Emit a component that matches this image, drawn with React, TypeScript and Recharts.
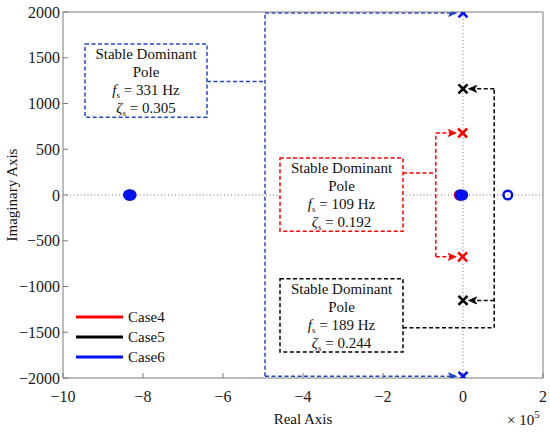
import {
  ScatterChart,
  Scatter,
  XAxis,
  YAxis,
  CartesianGrid,
  ReferenceArea,
  ReferenceLine,
  Legend,
} from 'recharts'

// real axis values are in units of 1e5
const xTicks = [-10, -8, -6, -4, -2, 0, 2]
const yTicks = [-2000, -1500, -1000, -500, 0, 500, 1000, 1500, 2000]

const cases = ['Case4', 'Case5', 'Case6']

// poles (x markers)
const case4Poles = [{ x: -0.01, y: 678 }, { x: -0.01, y: -676 }]
const case5Poles = [{ x: 0, y: 1160 }, { x: 0, y: -1152 }]
const case6Poles = [{ x: 0, y: 1990 }, { x: 0, y: -1982 }]

// zeros (filled circles)
const case4Zeros = [{ x: -8.34, y: 0 }, { x: -0.09, y: 0 }]
const case5Zeros = [{ x: -8.33, y: 0 }, { x: -0.06, y: 0 }]
const case6Zeros = [{ x: -8.36, y: 0 }, { x: -8.3, y: 0 }, { x: -0.07, y: 0 }, { x: -0.01, y: 0 }]
// open zero
const case6OpenZeros = [{ x: 1.12, y: 0 }]

// annotation boxes (data units)
const annBoxes = [
  { key: 'c6', x1: -9.45, x2: -6.4, y1: 850, y2: 1650, fs: '331', zeta: '0.305' },
  { key: 'c4', x1: -4.575, x2: -1.5, y1: -395, y2: 405, fs: '109', zeta: '0.192' },
  { key: 'c5', x1: -4.575, x2: -1.5, y1: -1716, y2: -915, fs: '189', zeta: '0.244' },
]

// dashed leader lines: [x1, y1, x2, y2]
const case6Leaders = [
  [-6.4, 1240, -4.95, 1240],
  [-4.95, -1982, -4.95, 1990],
  [-4.95, 1990, -0.2, 1990],
  [-4.95, -1982, -0.2, -1982],
]
const case4Leaders = [
  [-1.5, 240, -0.68, 240],
  [-0.68, -676, -0.68, 678],
  [-0.68, 678, -0.2, 678],
  [-0.68, -676, -0.2, -676],
]
const case5Leaders = [
  [-1.5, -1450, 0.78, -1450],
  [0.78, -1450, 0.78, 1160],
  [0.78, 1160, 0.18, 1160],
  [0.78, -1152, 0.18, -1152],
]

// arrow tips
const case6Tips = [{ x: -0.16, y: 1990, dir: 1 }, { x: -0.16, y: -1982, dir: 1 }]
const case4Tips = [{ x: -0.17, y: 678, dir: 1 }, { x: -0.17, y: -676, dir: 1 }]
const case5Tips = [{ x: 0.14, y: 1160, dir: -1 }, { x: 0.14, y: -1152, dir: -1 }]

const FONT = "'Times New Roman', 'Liberation Serif', serif"
const RED = '#ff0000'
const BLACK = '#000000'
const BLUE = '#0010f0'
const BLUE_DASH = '#2448c8'
const AXIS = '#7a7a7a'
const caseColors: Record<string, string> = { Case4: RED, Case5: BLACK, Case6: BLUE }
const boxColors: Record<string, string> = { c6: BLUE_DASH, c4: RED, c5: BLACK }

const fmt = (v: number) => String(v).replace('-', '\u2212')

const Cross = (color: string) => (props: any) => {
  const { cx, cy } = props
  const s = 4.5
  return (
    <g stroke={color} strokeWidth={2.6} strokeLinecap="butt">
      <line x1={cx - s} y1={cy - s} x2={cx + s} y2={cy + s} />
      <line x1={cx - s} y1={cy + s} x2={cx + s} y2={cy - s} />
    </g>
  )
}

const Dot = (color: string) => (props: any) => (
  <circle cx={props.cx} cy={props.cy} r={5.6} fill={color} />
)

const Ring = (color: string) => (props: any) => (
  <circle cx={props.cx} cy={props.cy} r={4.3} fill="none" stroke={color} strokeWidth={2.4} />
)

const Arrow = (color: string) => (props: any) => {
  const { cx, cy, payload } = props
  const d = payload.dir
  const pts = `${cx},${cy} ${cx - d * 8},${cy - 3.5} ${cx - d * 6},${cy} ${cx - d * 8},${cy + 3.5}`
  return <polygon points={pts} fill={color} stroke={color} strokeWidth={0.8} />
}

const BoxText = ({ viewBox, fs, zeta }: any) => {
  if (!viewBox) return null
  const cx = viewBox.x + viewBox.width / 2
  const top = viewBox.y
  return (
    <text fontFamily={FONT} fontSize={15} fill="#111" textAnchor="middle">
      <tspan x={cx} y={top + 15}>Stable Dominant</tspan>
      <tspan x={cx} y={top + 33}>Pole</tspan>
      <tspan x={cx} y={top + 51}>
        <tspan fontStyle="italic">f</tspan>
        <tspan fontSize={9} dy={3}>s</tspan>
        <tspan dy={-3}>{` = ${fs} Hz`}</tspan>
      </tspan>
      <tspan x={cx} y={top + 69}>
        <tspan fontStyle="italic">ζ</tspan>
        <tspan fontSize={9} dy={3}>s</tspan>
        <tspan dy={-3}>{` = ${zeta}`}</tspan>
      </tspan>
    </text>
  )
}

const LegendContent = () => (
  <div style={{ fontFamily: FONT, fontSize: 15, color: '#111' }}>
    {cases.map((c) => (
      <div key={c} style={{ display: 'flex', alignItems: 'center', height: 20 }}>
        <svg width={48} height={6} style={{ display: 'block' }}>
          <line x1={0} y1={3} x2={47} y2={3} stroke={caseColors[c]} strokeWidth={3} />
        </svg>
        <span style={{ marginLeft: 4 }}>{c}</span>
      </div>
    ))}
  </div>
)

const leaderLines = (lines: number[][], color: string, key: string) =>
  lines.map((l, i) => (
    <ReferenceLine
      key={`${key}-${i}`}
      segment={[{ x: l[0], y: l[1] }, { x: l[2], y: l[3] }]}
      stroke={color}
      strokeWidth={1.5}
      strokeDasharray="4 2.5"
      ifOverflow="visible"
    />
  ))

export default function App() {
  const tickStyle = { fill: '#1a1a1a', fontSize: 16, fontFamily: FONT }
  return (
    <div style={{ position: 'absolute', left: 0, top: 0, background: '#fff' }}>
      <ScatterChart
        width={550}
        height={432}
        margin={{ top: 11, right: 6, bottom: 24, left: 13 }}
      >
        <CartesianGrid
          horizontalValues={[0]}
          verticalValues={[0]}
          stroke="#777"
          strokeDasharray="1 2.5"
        />
        <XAxis
          type="number"
          dataKey="x"
          domain={[-10, 2]}
          ticks={xTicks}
          allowDataOverflow
          tickFormatter={fmt}
          tickSize={-5}
          tickMargin={18}
          height={30}
          stroke={AXIS}
          tick={tickStyle}
          label={{
            content: ({ viewBox }: any) => (
              <g fontFamily={FONT} fill="#111">
                <text
                  x={viewBox.x + viewBox.width / 2}
                  y={viewBox.y + 46}
                  fontSize={15}
                  textAnchor="middle"
                >
                  Real Axis
                </text>
                <text x={viewBox.x + viewBox.width - 36} y={viewBox.y + 47} fontSize={15}>
                  × 10
                  <tspan fontSize={11} dy={-7}>5</tspan>
                </text>
              </g>
            ),
          }}
        />
        <XAxis
          xAxisId="top"
          orientation="top"
          type="number"
          dataKey="x"
          domain={[-10, 2]}
          ticks={xTicks}
          allowDataOverflow
          tick={false}
          tickSize={-5}
          height={1}
          stroke={AXIS}
        />
        <YAxis
          type="number"
          dataKey="y"
          domain={[-2000, 2000]}
          ticks={yTicks}
          allowDataOverflow
          tickFormatter={fmt}
          tickSize={-5}
          tickMargin={8}
          width={50}
          stroke={AXIS}
          tick={tickStyle}
          label={{
            content: ({ viewBox }: any) => (
              <text
                transform={`translate(${viewBox.x - 1},${viewBox.y + viewBox.height / 2}) rotate(-90)`}
                fontFamily={FONT}
                fontSize={15}
                fill="#111"
                textAnchor="middle"
                dominantBaseline="central"
              >
                Imaginary Axis
              </text>
            ),
          }}
        />
        <YAxis
          yAxisId="right"
          orientation="right"
          type="number"
          dataKey="y"
          domain={[-2000, 2000]}
          ticks={yTicks}
          allowDataOverflow
          tick={false}
          tickSize={-5}
          width={1}
          stroke={AXIS}
        />

        {leaderLines(case6Leaders, BLUE_DASH, 'l6')}
        {leaderLines(case4Leaders, RED, 'l4')}
        {leaderLines(case5Leaders, BLACK, 'l5')}

        {annBoxes.map((b) => (
          <ReferenceArea
            key={b.key}
            x1={b.x1}
            x2={b.x2}
            y1={b.y1}
            y2={b.y2}
            fill="#ffffff"
            fillOpacity={1}
            stroke={boxColors[b.key]}
            strokeWidth={1.5}
            strokeDasharray="4 2.5"
            ifOverflow="visible"
            label={(p: any) => <BoxText {...p} fs={b.fs} zeta={b.zeta} />}
          />
        ))}

        <Scatter name="Case4 zeros" data={case4Zeros} shape={Dot(RED)} isAnimationActive={false} />
        <Scatter name="Case5 zeros" data={case5Zeros} shape={Dot(BLACK)} isAnimationActive={false} />
        <Scatter name="Case6 zeros" data={case6Zeros} shape={Dot(BLUE)} isAnimationActive={false} />
        <Scatter name="Case6 open zeros" data={case6OpenZeros} shape={Ring(BLUE)} isAnimationActive={false} />
        <Scatter name="Case4" data={case4Poles} shape={Cross(RED)} isAnimationActive={false} />
        <Scatter name="Case5" data={case5Poles} shape={Cross(BLACK)} isAnimationActive={false} />
        <Scatter name="Case6" data={case6Poles} shape={Cross(BLUE)} isAnimationActive={false} />
        <Scatter name="a6" data={case6Tips} shape={Arrow(BLUE_DASH)} isAnimationActive={false} />
        <Scatter name="a4" data={case4Tips} shape={Arrow(RED)} isAnimationActive={false} />
        <Scatter name="a5" data={case5Tips} shape={Arrow(BLACK)} isAnimationActive={false} />

        <Legend
          layout="vertical"
          align="center"
          verticalAlign="middle"
          content={<LegendContent />}
          wrapperStyle={{ left: 76, top: 307, width: 'auto', height: 'auto' }}
        />
      </ScatterChart>
    </div>
  )
}
